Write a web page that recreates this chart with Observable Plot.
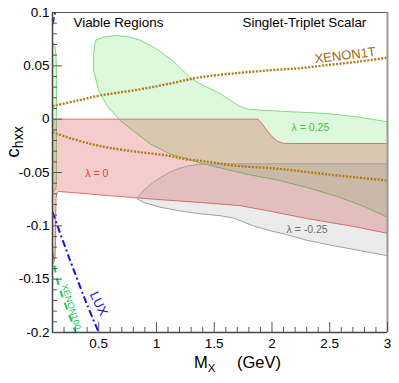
<!DOCTYPE html>
<html><head><meta charset="utf-8">
<script src="https://cdn.jsdelivr.net/npm/d3@7"></script>
<script src="https://cdn.jsdelivr.net/npm/@observablehq/plot@0.6"></script>
<style>body{margin:0;background:#fff} svg{display:block}</style>
</head><body><div id="chart"></div>
<script>
// ---- data ----
const xTicks = [0.5, 1, 1.5, 2, 2.5, 3];
const xTickLabels = ["0.5", "1", "1.5", "2", "2.5", "3"];
const yTicks = [0.1, 0.05, 0, -0.05, -0.1, -0.15, -0.2];
const yTickLabels = ["0.1", "0.05", "0", "-0.05", "-0.1", "-0.15", "-0.2"];

// lambda = 0.25 (green) region
const greenTop = [[0.456,0.0613],[0.471,0.0738],[0.55,0.0772],[0.658,0.0784],[0.76,0.0772],[0.86,0.074],[1.0,0.066],[1.15,0.054],[1.29,0.039],[1.38,0.033],[1.55,0.024],[1.72,0.012],[1.8,0.0092],[1.95,0.0081],[2.2,0.0068],[2.47,0.0053],[2.75,0.002],[3,-0.0025]];
const greenBottom = [[3,-0.092],[2.8,-0.082],[2.583,-0.0731],[2.296,-0.0638],[2.066,-0.0575],[1.8,-0.052],[1.634,-0.0478],[1.376,-0.041],[1.232,-0.0362],[1.117,-0.0325],[0.945,-0.0231],[0.83,-0.0135],[0.686,-0.0013],[0.571,0.0128],[0.5,0.0269],[0.456,0.0456]];
const greenSliver = [[0.1,0.072],[0.11,0.0715],[0.122,0.068],[0.13,0.06],[0.134,0.045],[0.134,-0.058],[0.13,-0.064],[0.12,-0.067],[0.1,-0.068]];

// lambda = 0 (red) region
const redTop = [[0.1,0],[1.88,0],[1.92,-0.005],[1.96,-0.011],[2.0,-0.0165],[2.05,-0.0208],[2.1,-0.0226],[2.15,-0.0228],[3,-0.0228]];
const redBottom = [[3,-0.107],[2.7,-0.1005],[2.3,-0.0931],[1.953,-0.0856],[1.72,-0.081],[1.376,-0.0781],[1.0,-0.0752],[0.6,-0.0718],[0.3,-0.069],[0.152,-0.0678],[0.138,-0.0692],[0.13,-0.075],[0.128,-0.09],[0.126,-0.12],[0.12,-0.131],[0.11,-0.135],[0.1,-0.135]];

// lambda = -0.25 (gray) region
const grayTop = [[0.833,-0.0744],[0.87,-0.069],[0.945,-0.0615],[1.03,-0.055],[1.117,-0.0497],[1.2,-0.046],[1.29,-0.0435],[1.376,-0.0422],[1.52,-0.0418],[3,-0.0418]];
const grayBottom = [[3,-0.128],[2.75,-0.123],[2.52,-0.1184],[2.3,-0.1135],[2.09,-0.1072],[2.0,-0.105],[1.85,-0.1005],[1.75,-0.0963],[1.66,-0.0925],[1.55,-0.0905],[1.376,-0.0887],[1.2,-0.086],[1.03,-0.0825],[0.9,-0.0785]];

// limits
const xenon1tUpper = [[0.1,0.0122],[0.3,0.017],[0.514,0.0222],[0.86,0.028],[1.1,0.033],[1.376,0.0392],[1.72,0.0434],[2.0,0.046],[2.24,0.0478],[2.5,0.051],[2.75,0.054],[3,0.0577]];
const xenon1tLower = [[0.1,-0.0122],[0.2,-0.016],[0.428,-0.0231],[0.6,-0.027],[0.859,-0.031],[1.117,-0.0345],[1.232,-0.0372],[1.45,-0.040],[1.663,-0.0434],[2.066,-0.0466],[2.5,-0.052],[3,-0.0575]];
const luxLower = [[0.1,-0.087],[0.2,-0.117],[0.3,-0.146],[0.4,-0.174],[0.5,-0.2]];
const luxUpper = [[0.1,0.089],[0.122,0.1]];
const xenon100 = [[0.1,-0.125],[0.135,-0.148],[0.185,-0.166],[0.23,-0.179],[0.3,-0.2]];

// ---- layout ----
const W = 399, H = 383, mL = 52, mR = 12, mT = 12, mB = 51;
const pw = W - mL - mR, ph = H - mT - mB;
const X = d => d[0], Y = d => d[1];
const xMinor = d3.range(2, 30).map(i => i / 10).filter(v => !xTicks.some(t => Math.abs(t - v) < 1e-9));
const yMinor = d3.range(-20, 11).map(i => i / 100).filter(v => !yTicks.some(t => Math.abs(t - v) < 1e-9));

const poly = (a, b) => a.concat(b);
const lineStyle = {strokeLinecap: "butt", strokeLinejoin: "miter", clip: true};

const svg = Plot.plot({
  width: W, height: H,
  marginLeft: mL, marginRight: mR, marginTop: mT, marginBottom: mB,
  x: {domain: [0.1, 3]},
  y: {domain: [-0.2, 0.1]},
  style: {fontFamily: "'Liberation Sans', Arial, Helvetica, sans-serif", fontSize: "13.5px", background: "white", color: "black"},
  marks: [
    // regions
    Plot.line(poly(greenTop, greenBottom), {x: X, y: Y, curve: "linear-closed", fill: "#00c800", fillOpacity: 0.13, stroke: "#7ede7e", strokeWidth: 1, clip: true}),
    Plot.line(greenSliver, {x: X, y: Y, curve: "linear-closed", fill: "#00c800", fillOpacity: 0.13, stroke: "#7ede7e", strokeWidth: 1, clip: true}),
    Plot.line(poly(redTop, redBottom), {x: X, y: Y, curve: "linear-closed", fill: "#cc0000", fillOpacity: 0.2, stroke: "#e07070", strokeWidth: 1, clip: true}),
    Plot.line(poly(grayTop, grayBottom), {x: X, y: Y, curve: "linear-closed", fill: "#646464", fillOpacity: 0.13, stroke: "#a0a0a0", strokeWidth: 1, clip: true}),
    // limit curves
    Plot.line(xenon1tUpper, {x: X, y: Y, curve: "catmull-rom", stroke: "#b07c14", strokeWidth: 2.4, strokeDasharray: "2,1.5", ...lineStyle}),
    Plot.line(xenon1tLower, {x: X, y: Y, curve: "catmull-rom", stroke: "#b07c14", strokeWidth: 2.4, strokeDasharray: "2,1.5", ...lineStyle}),
    Plot.line(luxLower, {x: X, y: Y, curve: "catmull-rom", stroke: "#1414dc", strokeWidth: 2, strokeDasharray: "7,3,2,3", ...lineStyle}),
    Plot.line(luxUpper, {x: X, y: Y, stroke: "#1414dc", strokeWidth: 2, strokeDasharray: "7,3,2,3", ...lineStyle}),
    Plot.line(xenon100, {x: X, y: Y, curve: "catmull-rom", stroke: "#22c45a", strokeWidth: 2, strokeDasharray: "7,6", ...lineStyle}),
    // frame
    Plot.ruleY([0.1], {stroke: "#555", strokeWidth: 1}),
    Plot.ruleX([3], {stroke: "#999", strokeWidth: 2}),
    Plot.ruleX([0.1], {stroke: "#444", strokeWidth: 1.5}),
    Plot.ruleY([-0.2], {stroke: "#444", strokeWidth: 1.5}),
    // ticks (inside)
    Plot.tickX(xTicks, {x: d => d, insetTop: ph - 10, stroke: "#555"}),
    Plot.tickX(xMinor, {x: d => d, insetTop: ph - 5, stroke: "#555"}),
    Plot.tickY(yTicks, {y: d => d, insetRight: pw - 10, stroke: "#555"}),
    Plot.tickY(yMinor, {y: d => d, insetRight: pw - 5, stroke: "#555"}),
    // tick labels
    Plot.axisX(xTicks, {tickSize: 0, tickPadding: 6, fontSize: 13.5, label: null, tickFormat: d => xTickLabels[xTicks.indexOf(d)]}),
    Plot.axisY(yTicks, {tickSize: 0, tickPadding: 3, fontSize: 13.5, label: null, tickFormat: d => yTickLabels[yTicks.indexOf(d)]}),
    // annotations
    Plot.text(["Viable Regions"], {frameAnchor: "top-left", dx: 21, dy: 5, fontSize: 13.4, fill: "black"}),
    Plot.text(["Singlet-Triplet Scalar"], {frameAnchor: "top-left", dx: 190, dy: 5, fontSize: 13.4, fill: "black"}),
    Plot.text(["XENON1T"], {x: 2.634, y: 0.0597, rotate: -7, fontSize: 13, fill: "#a06a12"}),
    Plot.text(["λ = 0.25"], {x: 2.17, y: -0.0078, textAnchor: "start", fontSize: 10.5, fill: "#3cc43c"}),
    Plot.text(["λ = 0"], {x: 0.384, y: -0.0514, textAnchor: "start", fontSize: 10.5, fill: "#dd3a3a"}),
    Plot.text(["λ = -0.25"], {x: 2.126, y: -0.1034, textAnchor: "start", fontSize: 10.5, fill: "#6e6e6e"}),
    Plot.text(["LUX"], {x: 0.5, y: -0.173, rotate: 64, fontSize: 13, fill: "#1414dc"}),
    Plot.text(["XENON100"], {x: 0.262, y: -0.176, rotate: 73, fontSize: 9, fill: "#22c45a"})
  ]
});

const s = d3.select(svg);
// y-axis title c_hxx
const yl = s.append("text")
  .attr("transform", "translate(19,142) rotate(-90)")
  .attr("text-anchor", "middle")
  .attr("font-family", "'Liberation Sans', Arial, sans-serif")
  .attr("fill", "black");
yl.append("tspan").attr("font-size", 19).text("c");
yl.append("tspan").attr("font-size", 14).attr("dy", 4).text("hxx");
// x-axis title M_X (GeV)
const xl = s.append("text")
  .attr("x", 194).attr("y", 368)
  .attr("text-anchor", "start")
  .attr("font-family", "'Liberation Sans', Arial, sans-serif")
  .attr("fill", "black");
xl.append("tspan").attr("font-size", 16.5).text("M");
xl.append("tspan").attr("font-size", 11.5).attr("dy", 4).text("X");
xl.append("tspan").attr("font-size", 16.5).attr("x", 237).attr("dy", -4).text("(GeV)");

document.getElementById("chart").appendChild(svg);
</script>
</body></html>
